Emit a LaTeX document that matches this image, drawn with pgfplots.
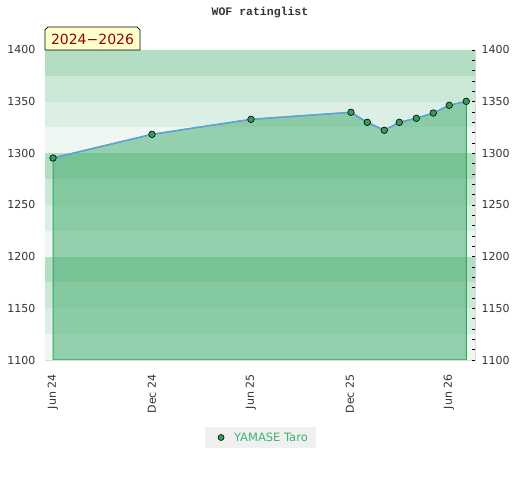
\documentclass[border=0pt]{standalone}
\usepackage{pgfplots}
\pgfplotsset{compat=1.18}
\usepackage{fontspec}
\setmainfont{DejaVu Sans}
\newfontfamily\titlefont{Liberation Mono}
\definecolor{bandA}{HTML}{EEF7F2}
\definecolor{bandB}{HTML}{DCEFE4}
\definecolor{bandC}{HTML}{CBE7D6}
\definecolor{bandD}{HTML}{B3DEC3}
\definecolor{areagreen}{RGB}{60,170,105}
\definecolor{edgegreen}{HTML}{2FA85A}
\definecolor{linecol}{RGB}{95,160,220}
\definecolor{markgreen}{HTML}{2E9E5B}
\definecolor{legtext}{HTML}{3CB371}
\definecolor{ticktext}{HTML}{333333}
\begin{document}
\begin{tikzpicture}[x=1bp,y=1bp]
\useasboundingbox (0,0) rectangle (520,480);
\node[font=\titlefont\bfseries\fontsize{11.5bp}{13bp}\selectfont, text=ticktext] at (260,467) {WOF ratinglist};
\begin{axis}[
  at={(45bp,120bp)}, anchor=south west,
  scale only axis, width=430bp, height=310bp,
  xmin=-0.485, xmax=25.58, ymin=1100, ymax=1400,
  axis line style={draw=black!15, line width=0.8bp},
  axis on top=false,
  ytick={1100,1150,...,1400},
  yticklabel pos=left,
  major tick length=0pt,
  xtick={0,6,12,18,24},
  xticklabels={Jun 24,Dec 24,Jun 25,Dec 25,Jun 26},
  xticklabel style={yshift=-11bp, rotate=90, anchor=east},
  /pgf/number format/assume math mode=true,
  /pgf/number format/1000 sep={},
  tick label style={font=\fontsize{11bp}{13bp}\selectfont, text=ticktext},
  yticklabel style={xshift=-6bp},
  clip=true,
  legend style={at={(0.501,-0.25)}, anchor=center, fill=black!6, draw=none,
    font=\fontsize{11.5bp}{13bp}\selectfont, text=legtext,
    inner xsep=0bp, inner ysep=3bp,
    nodes={inner xsep=2bp}},
  legend cell align=left,
]
% background bands
\fill[bandA] (axis cs:-1,1100) rectangle (axis cs:26,1125);
\fill[bandB] (axis cs:-1,1125) rectangle (axis cs:26,1150);
\fill[bandC] (axis cs:-1,1150) rectangle (axis cs:26,1175);
\fill[bandD] (axis cs:-1,1175) rectangle (axis cs:26,1200);
\fill[bandA] (axis cs:-1,1200) rectangle (axis cs:26,1225);
\fill[bandB] (axis cs:-1,1225) rectangle (axis cs:26,1250);
\fill[bandC] (axis cs:-1,1250) rectangle (axis cs:26,1275);
\fill[bandD] (axis cs:-1,1275) rectangle (axis cs:26,1300);
\fill[bandA] (axis cs:-1,1300) rectangle (axis cs:26,1325);
\fill[bandB] (axis cs:-1,1325) rectangle (axis cs:26,1350);
\fill[bandC] (axis cs:-1,1350) rectangle (axis cs:26,1375);
\fill[bandD] (axis cs:-1,1375) rectangle (axis cs:26,1400);
% area
\addplot[fill=areagreen, fill opacity=0.5, draw=edgegreen, line width=1bp, forget plot]
  coordinates {(0,1295.5) (6,1318.4) (12,1332.9) (18.06,1339.7) (19.05,1330) (20.08,1322.3) (20.99,1330) (22.02,1333.9) (23.05,1339) (24.02,1346.5) (25.05,1350.3)} \closedcycle;
% line with markers
\addplot[color=linecol, line width=1.5bp, mark=*, mark size=3.3bp,
  mark options={fill=markgreen, draw=black, line width=0.6bp}, forget plot]
  coordinates {(0,1295.5) (6,1318.4) (12,1332.9) (18.06,1339.7) (19.05,1330) (20.08,1322.3) (20.99,1330) (22.02,1333.9) (23.05,1339) (24.02,1346.5) (25.05,1350.3)};
\addlegendimage{legend image code/.code={%
  \path[draw=none, fill=none] (-5bp,-4bp) rectangle (22bp,4bp);
  \draw[fill=markgreen, draw=black, line width=0.6bp] (11bp,0bp) circle (3bp);}}
\addlegendentry{YAMASE Taro\hspace*{6bp}\mbox{}}
\end{axis}
\begin{axis}[
  at={(45bp,120bp)}, anchor=south west,
  scale only axis, width=430bp, height=310bp,
  xmin=-0.485, xmax=25.58, ymin=1100, ymax=1400,
  hide x axis,
  axis y line*=right,
  axis line style={draw=none},
  ytick={1100,1150,...,1400},
  minor y tick num=4,
  tick align=inside,
  major tick length=3bp, minor tick length=3bp,
  tick style={draw=black, line width=0.6bp},
  /pgf/number format/assume math mode=true,
  /pgf/number format/1000 sep={},
  tick label style={font=\fontsize{11bp}{13bp}\selectfont, text=ticktext},
  yticklabel style={xshift=3bp},
]
\end{axis}
\draw[black, line width=0.7bp, fill={rgb,255:red,255;green,255;blue,204}]
  (45,430) -- (45,450) -- (48,453) -- (137,453) -- (140,450) -- (140,430) -- cycle;
\node[font=\fontsize{14bp}{16bp}\selectfont, text={rgb,255:red,150;green,0;blue,0}] at (92.5,440.5) {2024−2026};
\end{tikzpicture}
\end{document}
